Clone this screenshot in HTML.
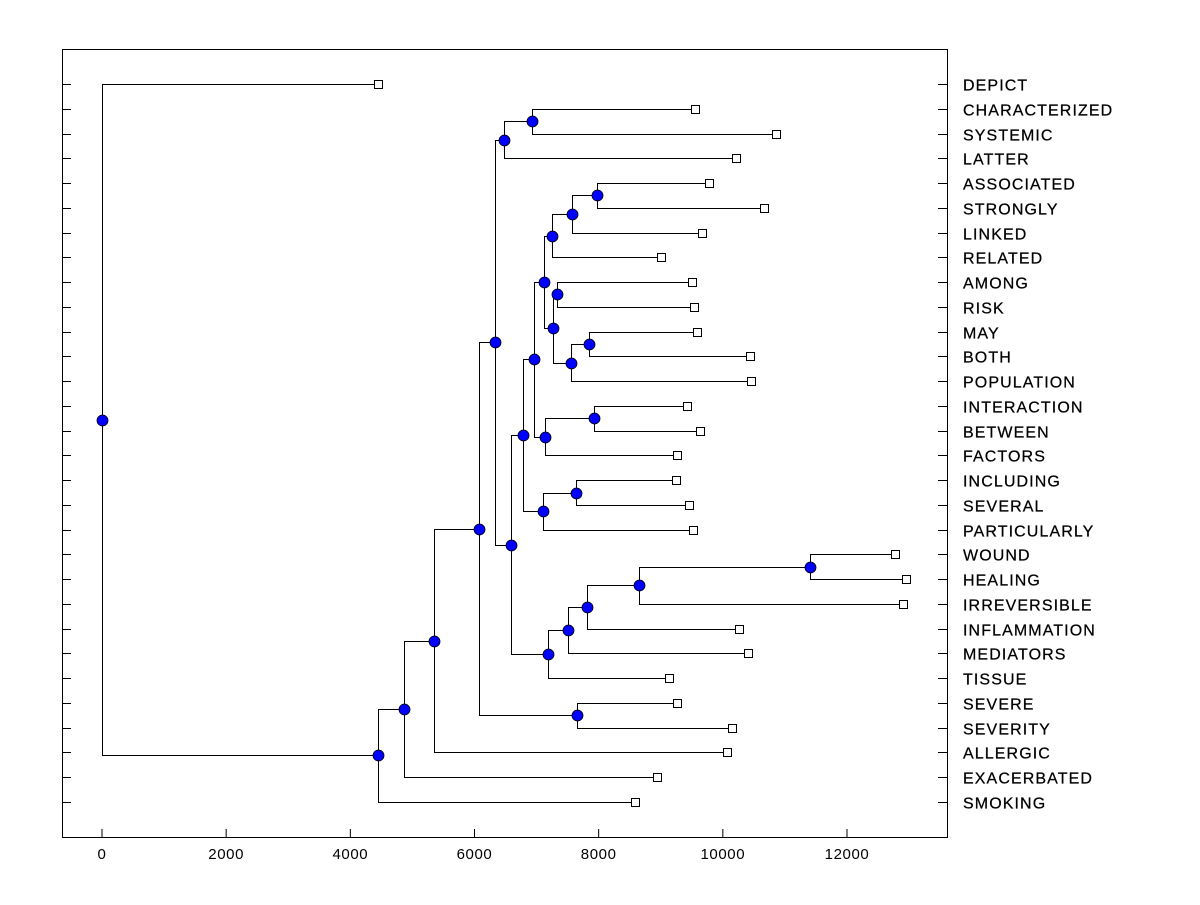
<!DOCTYPE html>
<html><head><meta charset="utf-8"><style>
body{margin:0;background:#fff;}
svg text{font-family:"Liberation Sans",Arial,sans-serif;}
</style></head><body>
<svg id="chart" width="1200" height="900" xmlns="http://www.w3.org/2000/svg">
<rect x="62.5" y="49.5" width="885" height="788" fill="none" stroke="#000" stroke-width="1"/>
<g id="axis"></g><g id="links"></g><g id="marks"></g>
</svg>
<script>
const leafLabels=["DEPICT","CHARACTERIZED","SYSTEMIC","LATTER","ASSOCIATED","STRONGLY","LINKED","RELATED","AMONG","RISK","MAY","BOTH","POPULATION","INTERACTION","BETWEEN","FACTORS","INCLUDING","SEVERAL","PARTICULARLY","WOUND","HEALING","IRREVERSIBLE","INFLAMMATION","MEDIATORS","TISSUE","SEVERE","SEVERITY","ALLERGIC","EXACERBATED","SMOKING"];
const leafValues=[4446,9552,10856,10212,9777,10663,9664,9004,9503,9536,9584,10438,10454,9423,9632,9262,9246,9455,9520,12773,12950,12902,10261,10405,9133,9262,10148,10067,8940,8585];
const mergeA=[1,30,4,32,33,8,10,36,35,34,13,40,39,16,43,42,19,46,47,48,49,45,31,25,52,54,55,56,0];
const mergeB=[2,3,5,6,7,9,11,12,37,38,14,15,41,17,18,44,20,21,22,23,24,50,51,26,53,27,28,29,57];
const mergeHeight=[6926,6475,7973,7570,7248,7329,7844,7554,7264,7119,7925,7136,6958,7635,7103,6781,11404,8650,7812,7506,7184,6588,6330,7651,6073,5348,4864,4446,0];
const xTicks=[0,2000,4000,6000,8000,10000,12000];

const NS="http://www.w3.org/2000/svg";
const X=v=>102+v*(745/12000);
const Y=i=>84+i*(718/29);
function mk(tag,attrs,parent){const e=document.createElementNS(NS,tag);for(const k in attrs)e.setAttribute(k,attrs[k]);parent.appendChild(e);return e;}
const axis=document.getElementById('axis'),links=document.getElementById('links'),marks=document.getElementById('marks');

xTicks.forEach(t=>{
  const l=mk('line',{x1:X(t),x2:X(t),y1:838,y2:829,stroke:'#000'},axis);
  
  
  const tx=mk('text',{x:X(t),y:859,'text-anchor':'middle','font-size':'15','letter-spacing':'0.6'},axis);
  tx.textContent=t;
  
  
});
leafLabels.forEach((lab,i)=>{
  const y=Math.round(Y(i))+0.5;
  const a=mk('line',{x1:62,x2:71,y1:y,y2:y,stroke:'#000'},axis);
  
  
  const b=mk('line',{x1:938,x2:947,y1:y,y2:y,stroke:'#000'},axis);
  
  
  const t=mk('text',{x:963,y:y+6,'font-size':'16','letter-spacing':'1.1','stroke':'#000','stroke-width':'0.25'},axis);
  t.textContent=lab;
  
  
});

const n=leafLabels.length;
const pos={},hgt={};
for(let i=0;i<n;i++){pos[i]=Y(i);hgt[i]=leafValues[i];}
const nodes=[];
mergeA.forEach((a,k)=>{
  const b=mergeB[k],id=n+k,h=mergeHeight[k];
  pos[id]=(pos[a]+pos[b])/2;hgt[id]=h;
  const x=Math.round(X(h))+0.5;
  const p=mk('path',{d:`M${Math.round(X(hgt[a]))},${Math.round(pos[a])+0.5}H${x}V${Math.round(pos[b])+0.5}H${Math.round(X(hgt[b]))}`,fill:'none',stroke:'#000','stroke-width':1},links);
  
  
  nodes.push(id);
});
for(let i=0;i<n;i++){
  const r=mk('rect',{x:Math.round(X(leafValues[i]))-4+0.5,y:Math.round(Y(i))-4+0.5,width:8,height:8,fill:'#fff',stroke:'#000'},marks);
  
  
}
nodes.forEach(id=>{
  const c=mk('circle',{cx:Math.round(X(hgt[id]))+0.5,cy:Math.round(pos[id])+0.5,r:5.5,fill:'#0000ff',stroke:'#000','stroke-width':0.8},marks);
  
  
});
</script>
</body></html>
